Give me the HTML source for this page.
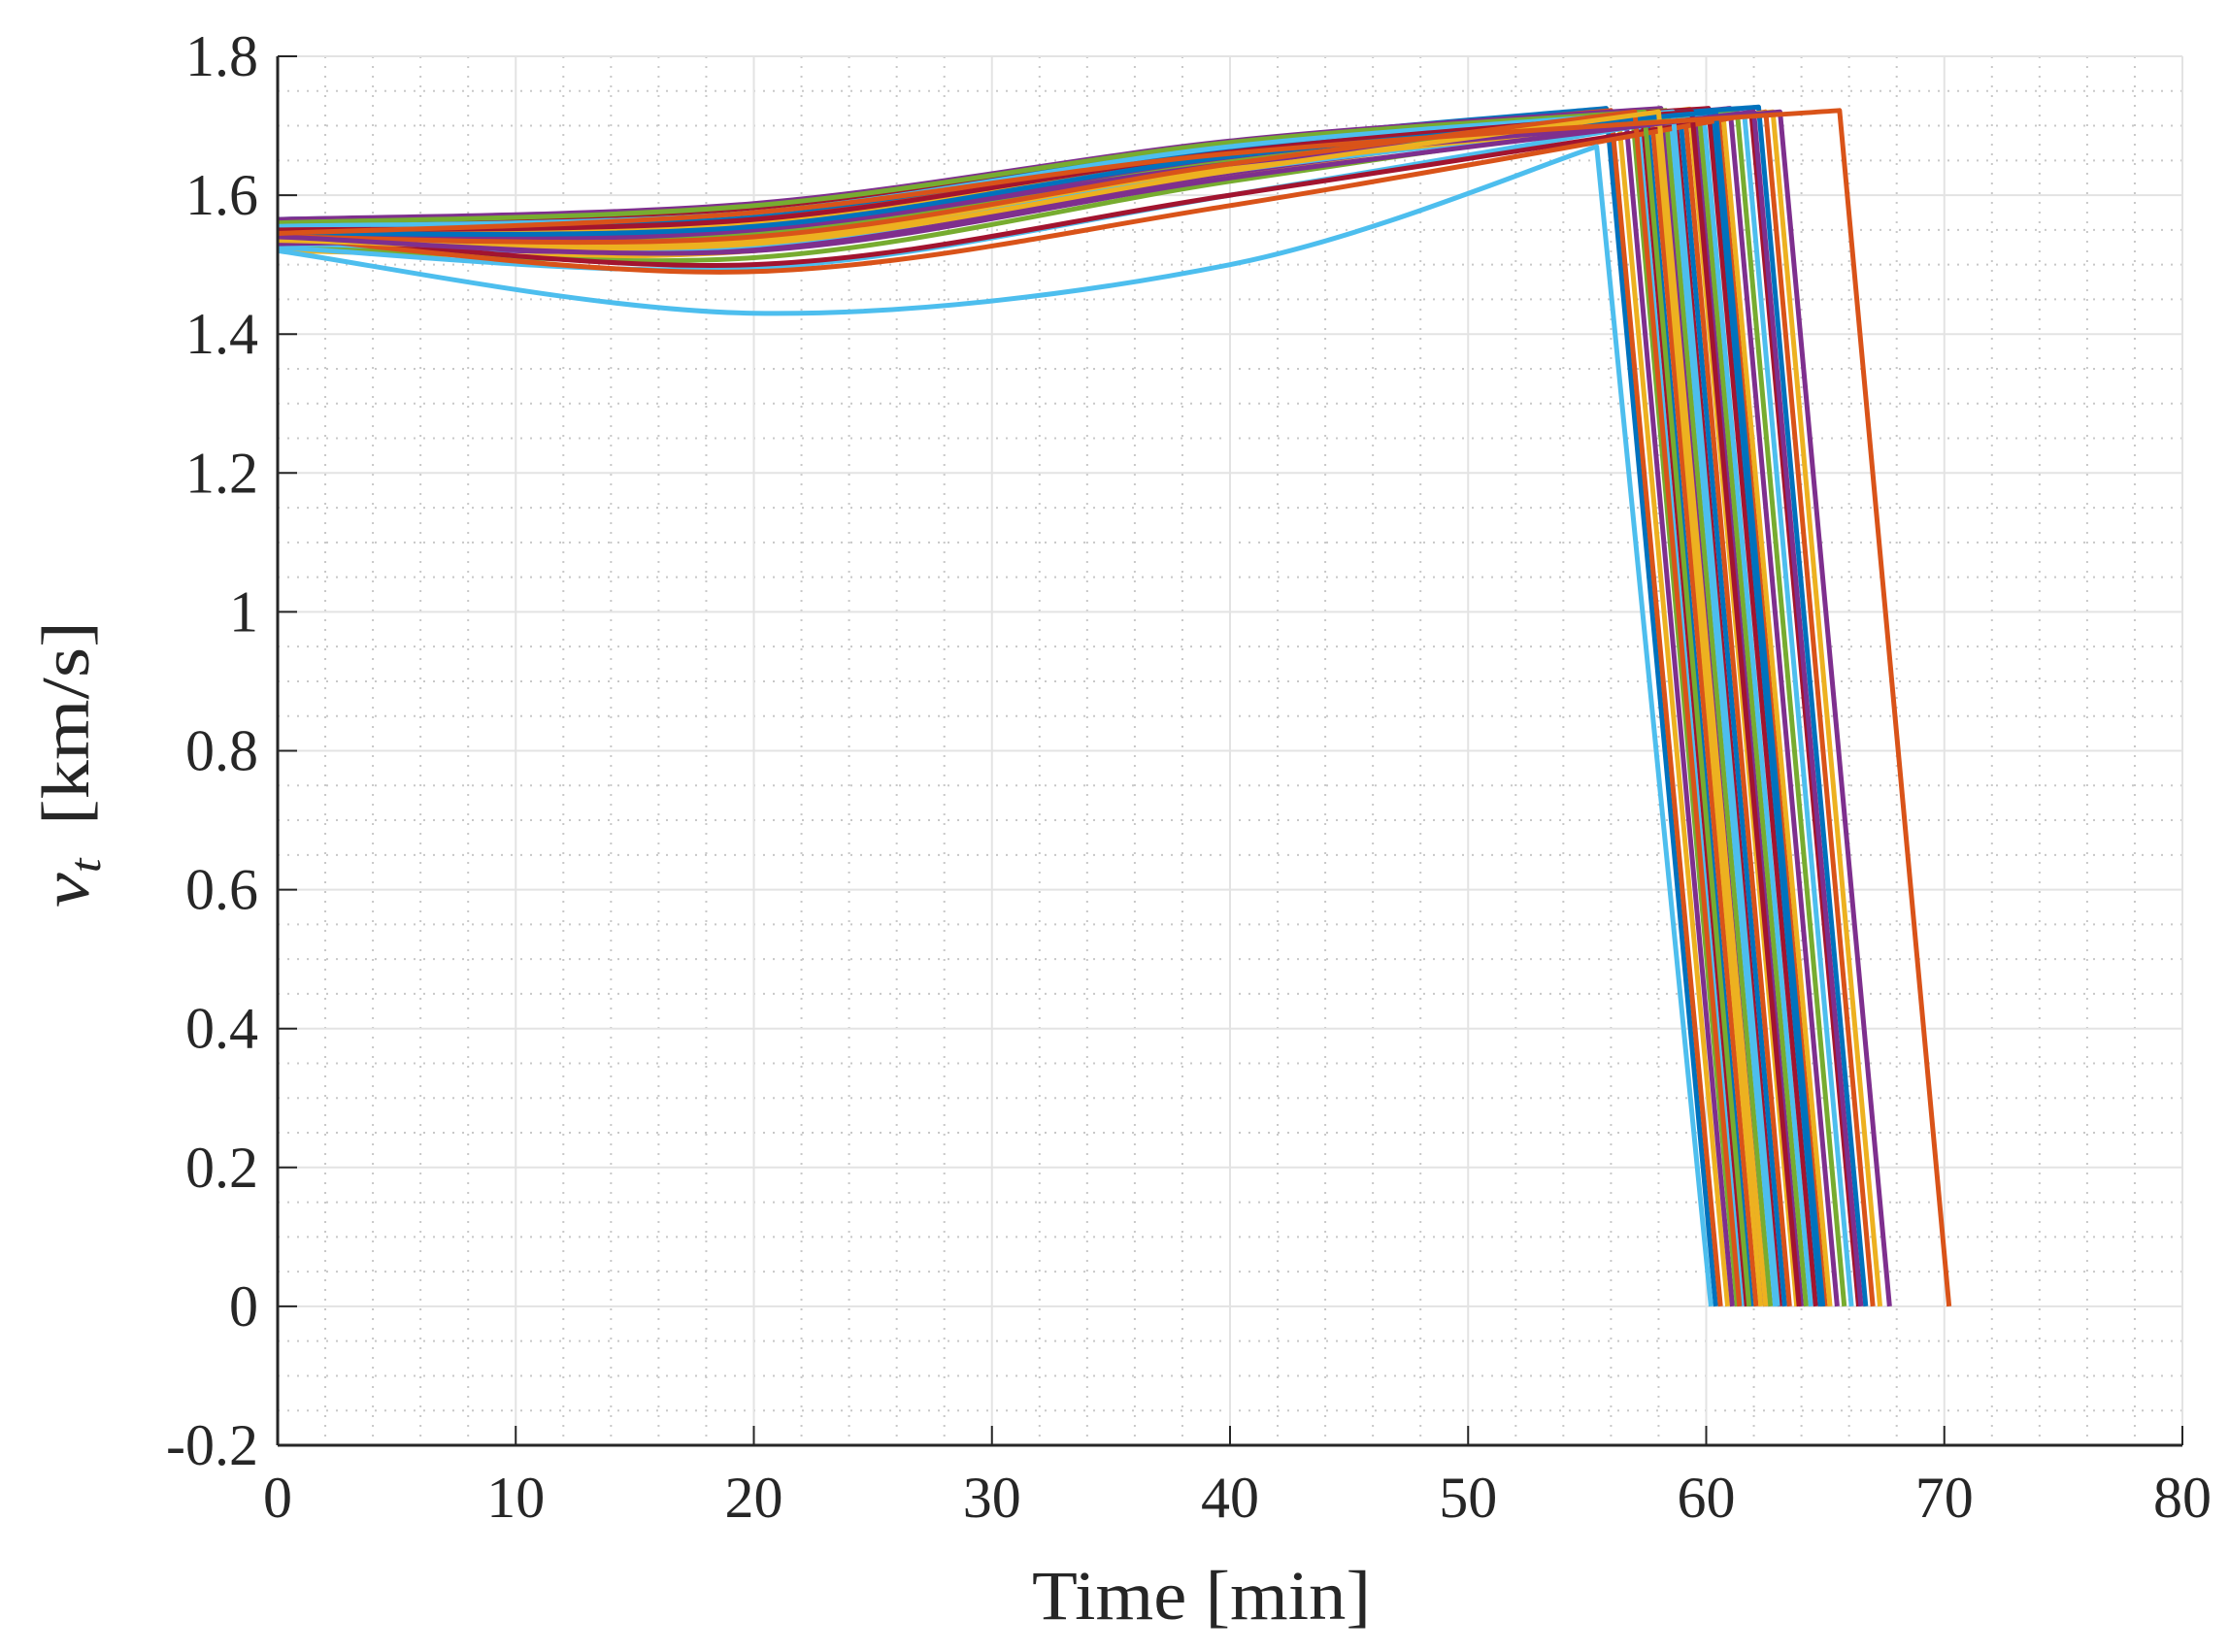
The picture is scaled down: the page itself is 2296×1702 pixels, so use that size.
<!DOCTYPE html>
<html><head><meta charset="utf-8"><style>
html,body{margin:0;padding:0;background:#fff;}
svg{display:block;font-family:"Liberation Serif",serif;}
</style></head><body>
<svg id="chart" width="2296" height="1702" viewBox="0 0 2296 1702" xmlns="http://www.w3.org/2000/svg">
<g id="grid"></g>
<g id="series"></g>
<g id="axes"></g>
<text x="1063" y="1668" font-size="72" textLength="349" lengthAdjust="spacingAndGlyphs" fill="#262626">Time [min]</text>
<text transform="translate(91,935) rotate(-90)" font-size="70" fill="#262626" textLength="295" lengthAdjust="spacingAndGlyphs"><tspan font-style="italic">v</tspan><tspan font-style="italic" font-size="46" dy="12">t</tspan><tspan dy="-12" dx="30">[km/s]</tspan></text>
</svg>
<script>
const xTicks=[0,10,20,30,40,50,60,70,80];
const yTicks=[-0.2,0,0.2,0.4,0.6,0.8,1,1.2,1.4,1.6,1.8];
const yTickLabels=["-0.2","0","0.2","0.4","0.6","0.8","1","1.2","1.4","1.6","1.8"];
// per-series values
const v0=[1.565,1.56,1.555,1.55,1.545,1.54,1.535,1.53,1.525,1.52,1.565,1.56,1.555,1.55,1.545,1.54,1.535,1.53,1.528,1.525,1.56,1.555,1.55,1.545,1.54,1.535,1.53,1.545,1.55,1.54,1.535,1.53,1.56,1.555,1.55,1.545,1.54,1.535,1.54,1.52];
const v20=[1.585,1.58,1.575,1.57,1.565,1.56,1.555,1.545,1.535,1.52,1.588,1.58,1.57,1.565,1.55,1.545,1.535,1.525,1.51,1.495,1.582,1.575,1.568,1.56,1.552,1.545,1.528,1.5,1.572,1.49,1.538,1.55,1.585,1.575,1.565,1.555,1.54,1.53,1.52,1.43];
const v40=[1.675,1.67,1.668,1.665,1.66,1.655,1.65,1.645,1.64,1.63,1.678,1.672,1.665,1.66,1.652,1.648,1.64,1.632,1.62,1.6,1.675,1.67,1.665,1.66,1.655,1.648,1.635,1.6,1.668,1.585,1.64,1.645,1.676,1.67,1.662,1.656,1.645,1.635,1.625,1.5];
const tPeak=[55.8,56.0,56.3,56.6,56.9,57.1,57.3,57.5,57.7,57.9,58.1,58.3,58.5,58.7,58.9,59.1,59.3,59.5,59.7,59.9,60.1,60.3,60.5,60.7,61.0,61.3,61.6,61.9,62.2,62.5,62.8,63.1,57.4,58.6,59.4,60.4,57.0,58.0,62.0,55.4];
const vPeak=[1.725,1.722,1.72,1.72,1.718,1.72,1.722,1.718,1.72,1.715,1.725,1.722,1.72,1.718,1.72,1.722,1.724,1.72,1.718,1.716,1.725,1.722,1.72,1.72,1.725,1.72,1.718,1.716,1.727,1.72,1.72,1.72,1.72,1.72,1.72,1.72,1.72,1.72,1.72,1.67];
const tEnd=[60.4,60.6,60.9,61.1,61.3,61.5,61.7,61.9,62.1,62.3,62.5,62.7,62.9,63.1,63.3,63.5,63.8,64.0,64.2,64.4,64.6,64.8,65.0,65.2,65.5,65.8,66.1,66.4,66.7,67.0,67.3,67.7,61.8,63.0,63.9,64.9,61.4,62.5,66.5,60.2];
const colorIdx=[0,1,2,3,4,5,6,0,1,2,3,4,5,6,0,1,2,3,4,5,6,0,1,2,3,4,5,6,0,1,2,3,4,5,6,0,1,2,3,5];
const extraPeak=[65.6], extraV0=[1.545], extraV20=[1.575], extraV40=[1.66], extraVPeak=[1.722], extraEnd=[70.2];
const colors=["#0072BD","#D95319","#EDB120","#7E2F8E","#77AC30","#4DBEEE","#A2142F"];
const L=286,R=2248,T=58,B=1489;
const X=t=>L+(t-0)/(80-0)*(R-L);
const Y=v=>B-(v+0.2)/2.0*(B-T);
const NS="http://www.w3.org/2000/svg";
function mk(tag,attrs,parent){const e=document.createElementNS(NS,tag);for(const k in attrs)e.setAttribute(k,attrs[k]);parent.appendChild(e);return e;}
const grid=document.getElementById('grid'),axes=document.getElementById('axes'),ser=document.getElementById('series');
for(let t=2;t<80;t+=2){if(t%10===0)continue;const l=mk('line',{x1:X(t),x2:X(t),y1:T,y2:B,stroke:'#c8c8c8','stroke-width':2,'stroke-dasharray':'2 8'},grid);}
for(let i=1;i<40;i++){const v=-0.2+i*0.05;if(i%4===0)continue;const l=mk('line',{x1:L,x2:R,y1:Y(v),y2:Y(v),stroke:'#c8c8c8','stroke-width':2,'stroke-dasharray':'2 8'},grid);}
xTicks.forEach(t=>{const l=mk('line',{x1:X(t),x2:X(t),y1:T,y2:B,stroke:'#e3e3e3','stroke-width':2},grid);});
yTicks.forEach(v=>{const l=mk('line',{x1:L,x2:R,y1:Y(v),y2:Y(v),stroke:'#e3e3e3','stroke-width':2},grid);});
function pathFor(a,b,c,tp,vp,te){
  const P=[[X(0),Y(a)],[X(20),Y(b)],[X(40),Y(c)],[X(tp),Y(vp)]];
  const pts=[P[0]].concat(P).concat([P[3]]);
  let d='M'+P[0][0]+','+P[0][1];
  for(let i=1;i<pts.length-2;i++){const p0=pts[i-1],p1=pts[i],p2=pts[i+1],p3=pts[i+2];
    d+=' C'+(p1[0]+(p2[0]-p0[0])/6)+','+(p1[1]+(p2[1]-p0[1])/6)+' '+(p2[0]-(p3[0]-p1[0])/6)+','+(p2[1]-(p3[1]-p1[1])/6)+' '+p2[0]+','+p2[1];}
  d+=' L'+X(te)+','+Y(0);return d;}
for(let i=0;i<v0.length;i++){
  const p=mk('path',{d:pathFor(v0[i],v20[i],v40[i],tPeak[i],vPeak[i],tEnd[i]),fill:'none',stroke:colors[colorIdx[i]],'stroke-width':5,'stroke-linejoin':'round'},ser);
  
  
}
for(let i=0;i<extraPeak.length;i++){
  const p=mk('path',{d:pathFor(extraV0[i],extraV20[i],extraV40[i],extraPeak[i],extraVPeak[i],extraEnd[i]),fill:'none',stroke:'#D95319','stroke-width':5,'stroke-linejoin':'round'},ser);
  
  
}
mk('line',{x1:L,x2:L,y1:T,y2:B,stroke:'#262626','stroke-width':3},axes);
mk('line',{x1:L,x2:R,y1:B,y2:B,stroke:'#262626','stroke-width':3},axes);
xTicks.forEach(t=>{mk('line',{x1:X(t),x2:X(t),y1:B,y2:B-20,stroke:'#262626','stroke-width':2},axes);
  const tx=mk('text',{x:X(t),y:1563,'font-size':60,'text-anchor':'middle',fill:'#262626'},axes);tx.textContent=t;
  });
yTicks.forEach((v,i)=>{mk('line',{x1:L,x2:L+20,y1:Y(v),y2:Y(v),stroke:'#262626','stroke-width':2},axes);
  const tx=mk('text',{x:L-20,y:Y(v)+20,'font-size':60,'text-anchor':'end',fill:'#262626'},axes);tx.textContent=yTickLabels[i];
  });
</script>
</body></html>
